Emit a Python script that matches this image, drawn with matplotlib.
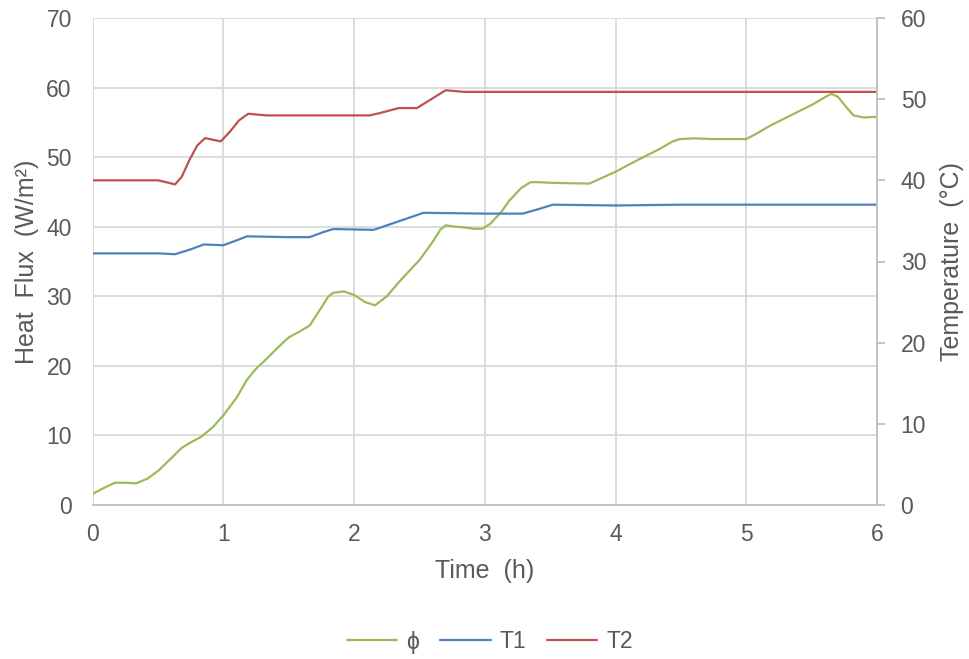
import matplotlib
matplotlib.use("Agg")
import matplotlib.pyplot as plt

plt.rcParams['font.family'] = ['Liberation Sans', 'DejaVu Sans']

# Heat flux phi (left axis, W/m2)
phi_t = [0.00, 0.08, 0.17, 0.25, 0.33, 0.42, 0.50, 0.60, 0.68, 0.75, 0.83, 0.92,
         1.00, 1.10, 1.18, 1.25, 1.33, 1.42, 1.50, 1.58, 1.66, 1.75, 1.80, 1.84, 1.92, 2.00, 2.08,
         2.16, 2.25, 2.35, 2.42, 2.50, 2.60, 2.66, 2.70, 2.78, 2.84, 2.92, 2.98, 3.04, 3.12, 3.19, 3.28, 3.35, 3.42, 3.52,
         3.80, 3.87, 4.00, 4.17, 4.34, 4.43, 4.49, 4.60, 4.75, 5.00, 5.08, 5.18, 5.35, 5.51,
         5.60, 5.65, 5.70, 5.76, 5.82, 5.90, 6.00]
phi_v = [1.6, 2.4, 3.2, 3.2, 3.1, 3.8, 4.9, 6.7, 8.2, 9.0, 9.8, 11.2,
         12.9, 15.4, 18.0, 19.6, 21.0, 22.7, 24.1, 24.9, 25.8, 28.4, 29.9, 30.5, 30.7, 30.2, 29.2,
         28.7, 30.0, 32.2, 33.6, 35.2, 37.8, 39.6, 40.2, 40.0, 39.9, 39.7, 39.7, 40.4, 42.0, 43.8, 45.6, 46.4, 46.4, 46.3,
         46.2, 46.8, 47.9, 49.6, 51.2, 52.2, 52.6, 52.7, 52.6, 52.6, 53.4, 54.5, 56.1, 57.6,
         58.6, 59.1, 58.7, 57.3, 56.0, 55.7, 55.8]

# Temperature T1 (right axis, deg C)
t1_t = [0, 0.5, 0.63, 0.75, 0.85, 1.0, 1.1, 1.18, 1.5, 1.66, 1.76, 1.84, 2.15,
        2.35, 2.53, 3.0, 3.29, 3.42, 3.52, 4.0, 4.5, 6.0]
t1_v = [31.0, 31.0, 30.9, 31.5, 32.1, 32.0, 32.6, 33.1, 33.0, 33.0, 33.6, 34.0, 33.9,
        35.0, 36.0, 35.9, 35.9, 36.5, 37.0, 36.9, 37.0, 37.0]

# Temperature T2 (right axis, deg C)
t2_t = [0, 0.5, 0.58, 0.63, 0.68, 0.74, 0.80, 0.86, 0.92, 0.98, 1.05, 1.12, 1.19,
        1.33, 2.12, 2.20, 2.34, 2.48, 2.58, 2.70, 2.84, 6.0]
t2_v = [40.0, 40.0, 39.7, 39.5, 40.4, 42.5, 44.3, 45.2, 45.0, 44.8, 46.0, 47.4, 48.2,
        48.0, 48.0, 48.3, 48.9, 48.9, 49.9, 51.1, 50.9, 50.9]

x_ticks = [0, 1, 2, 3, 4, 5, 6]
left_ticks = [0, 10, 20, 30, 40, 50, 60, 70]
right_ticks = [0, 10, 20, 30, 40, 50, 60]

txt = '#595959'
grid_c = '#d9d9d9'
spine_c = '#bfbfbf'

fig = plt.figure(figsize=(9.69, 6.59), dpi=100)
ax = fig.add_axes([92.7/969, 1-505/659, (877-92.7)/969, (505-18)/659])
ax2 = ax.twinx()

kw = dict(lw=1.6, solid_joinstyle='round', solid_capstyle='round')
l1, = ax.plot(phi_t, phi_v, color='#9BBB59', label='ϕ', **kw)
l2, = ax2.plot(t1_t, t1_v, color='#4F81BD', label='T1', **kw)
l3, = ax2.plot(t2_t, t2_v, color='#C0504D', label='T2', **kw)

ax.set_xlim(0, 6)
ax.set_ylim(0, 70)
ax2.set_ylim(0, 60)
ax.set_xticks(x_ticks)
ax.set_yticks(left_ticks)
ax2.set_yticks(right_ticks)

ax.grid(True, color=grid_c, lw=1.3)
ax.set_axisbelow(True)

for a in (ax, ax2):
    for s in a.spines.values():
        s.set_visible(False)
ax.spines['bottom'].set_visible(True)
ax.spines['bottom'].set_color(spine_c)
ax.spines['bottom'].set_linewidth(1.3)
ax2.spines['right'].set_visible(True)
ax2.spines['right'].set_color(spine_c)
ax2.spines['right'].set_linewidth(1.3)

fs_tick = 16.5
ax.tick_params(axis='x', length=0, pad=13, labelsize=fs_tick, labelcolor=txt)
ax.tick_params(axis='y', length=0, pad=15, labelsize=fs_tick, labelcolor=txt)
ax2.tick_params(axis='y', length=6, width=1.3, color=spine_c, pad=11,
                labelsize=fs_tick, labelcolor=txt)

ax.set_xlabel('Time  (h)', fontsize=18, color=txt, labelpad=9)
ax.set_ylabel('Heat  Flux  (W/m²)', fontsize=18, color=txt, labelpad=5)
ax2.set_ylabel('Temperature  (°C)', fontsize=18, color=txt, labelpad=10)

leg = fig.legend(handles=[l1, l2, l3], loc='center', bbox_to_anchor=(490/969, 1-642/659),
                 ncol=3, frameon=False, fontsize=fs_tick, handlelength=2.2,
                 columnspacing=0.9, handletextpad=0.4)
for t in leg.get_texts():
    t.set_color(txt)

fig.savefig('out.png', dpi=100)
